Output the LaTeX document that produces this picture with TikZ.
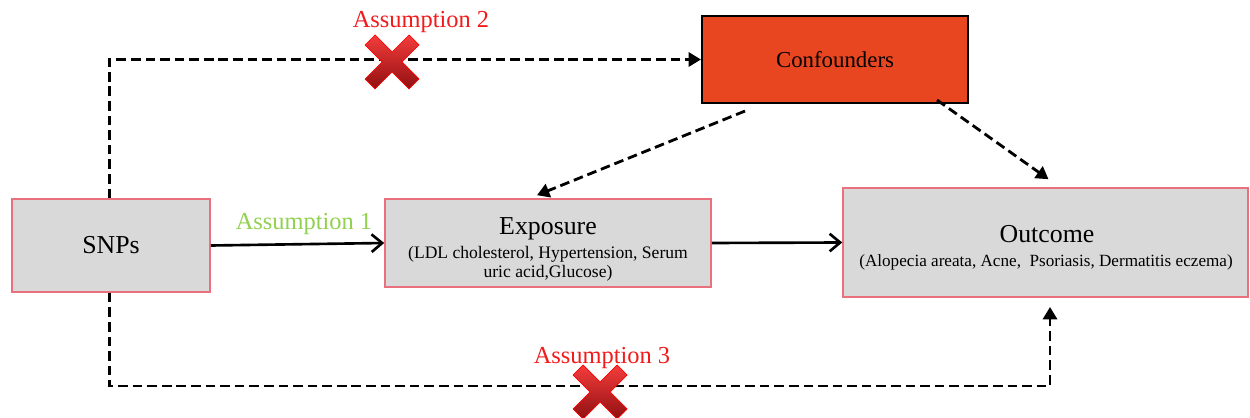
\documentclass[tikz,border=0pt]{standalone}
\usepackage{fontspec}
\setmainfont{Liberation Serif}
\usetikzlibrary{arrows.meta,positioning}
\definecolor{boxgray}{HTML}{D9D9D9}
\definecolor{boxedge}{HTML}{E8717D}
\definecolor{confred}{HTML}{E84620}
\definecolor{asgreen}{HTML}{92D050}
\definecolor{asred}{HTML}{F21A1A}
% red cross mark, points in px
\def\xmark{(17,27) -- (0,10) -- (-17,27) -- (-27,17) -- (-10,0) -- (-27,-17) -- (-17,-27) -- (0,-10) -- (17,-27) -- (27,-17) -- (10,0) -- (27,17) -- cycle}

\begin{document}
\begin{tikzpicture}[x=0.02cm, y=-0.02cm,
    box/.style={draw=boxedge, line width=0.9pt, fill=boxgray, inner sep=0pt},
    big/.style={font=\fontsize{14.7}{17}\selectfont, inner sep=0pt, anchor=base},
    small/.style={font=\fontsize{#1}{11.3}\selectfont, inner sep=0pt, anchor=base, align=center},
    small/.default=10,
    asm/.style={font=\fontsize{13.9}{16}\selectfont},
    solidarr/.style={line width=1.5pt, -{Straight Barb[length=6pt,width=10pt,line width=1.5pt]}},
    dasharr/.style={line width=1.6pt, dash pattern=on 5.5pt off 2.8pt, -{Triangle[length=7pt,width=8pt]}},
    crossmark/.style={draw=red, line width=0.4pt, top color=asred!85!white, bottom color=asred!60!black}]
    \useasboundingbox (0,0) rectangle (1250,418);

    \node[box, minimum width=3.96cm, minimum height=1.86cm, font=\fontsize{14.7}{17}\selectfont] (snp) at (111,245.5) {SNPs};
    \node[box, minimum width=6.52cm, minimum height=1.76cm] (exp) at (548,243) {};
    \node[big] (expt) at (548,235) {Exposure};
    \node[small] (exps) at (548,278) {(LDL cholesterol, Hypertension, Serum\\uric acid,Glucose)};
    \node[draw=black, line width=1.2pt, fill=confred, inner sep=0pt, minimum width=5.32cm,
          minimum height=1.74cm, font=\fontsize{13}{15}\selectfont] (conf) at (835,59.5) {Confounders};
    \node[box, minimum width=8.1cm, minimum height=2.18cm] (out) at (1045.5,242.5) {};
    \node[big] (outt) at (1047,242.5) {Outcome};
    \node[small=9.75] (outs) at (1046,267) {(Alopecia areata, Acne,~ Psoriasis, Dermatitis eczema)};

    % assumption 1: the direct path
    \draw[solidarr] (snp.east) -- (exp.west);
    \draw[solidarr] (exp.east) -- (out.west);
    \node[asm, text=asgreen] (a1) at (304,224) {Assumption 1};

    % confounders
    \draw[dasharr] ([shift={(-90,7)}]conf.south) -- ([shift={(-11,-3)}]exp.north);
    \draw[dasharr] ([shift={(102,-4)}]conf.south) -- ([shift={(3,-8)}]out.north);

    % assumptions 2 and 3
    \coordinate (low) at (1050,386);
    \coordinate (outin) at (1050,307);
    \draw[dasharr] ([xshift=-1]snp.north) |- (conf.west);
    \draw[dasharr] ([xshift=-1]snp.south) |- (low) -- (outin);
    \node[asm, text=asred] (a2) at (421,22) {Assumption 2};
    \node[asm, text=asred] (a3) at (602,358) {Assumption 3};
    \shade[crossmark, shift={(392,62)}] \xmark;
    \shade[crossmark, shift={(600,392)}] \xmark;
\end{tikzpicture}
\end{document}
